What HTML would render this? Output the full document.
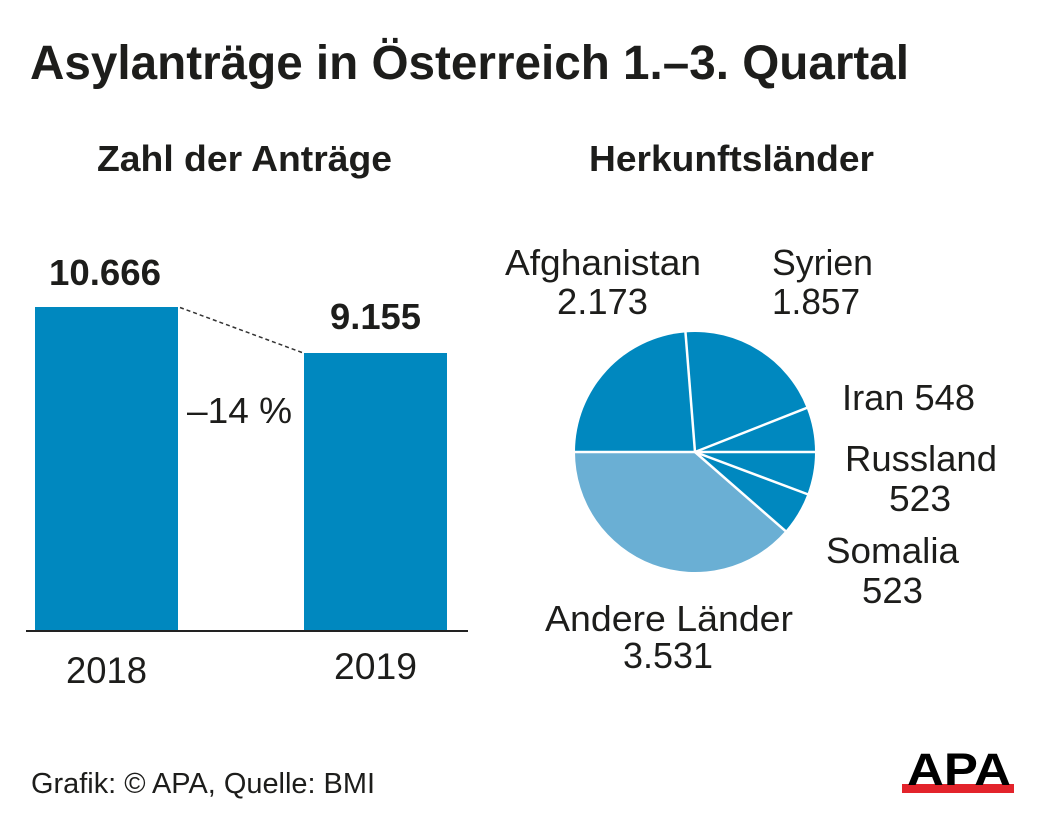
<!DOCTYPE html>
<html>
<head>
<meta charset="utf-8">
<style>
  html, body { margin: 0; padding: 0; background: #ffffff; }
  body { width: 1040px; height: 813px; overflow: hidden; }
  svg { display: block; }
  text { font-family: "Liberation Sans", Arial, sans-serif; fill: #1d1d1b; }
  .b { font-weight: bold; }
</style>
</head>
<body>
<svg width="1040" height="813" viewBox="0 0 1040 813" xmlns="http://www.w3.org/2000/svg">
  <rect x="0" y="0" width="1040" height="813" fill="#ffffff"/>

  <!-- Title -->
  <text class="b" x="30" y="79" font-size="48" textLength="879" lengthAdjust="spacingAndGlyphs">Asylanträge in Österreich 1.–3. Quartal</text>

  <!-- Subtitles -->
  <text class="b" x="97" y="171" font-size="36" textLength="295" lengthAdjust="spacingAndGlyphs">Zahl der Anträge</text>
  <text class="b" x="589" y="171" font-size="36" textLength="285" lengthAdjust="spacingAndGlyphs">Herkunftsländer</text>

  <!-- Bar chart -->
  <rect x="35" y="307" width="143" height="324" fill="#0088bf"/>
  <rect x="304" y="353" width="143" height="278" fill="#0088bf"/>
  <line x1="26" y1="631" x2="468" y2="631" stroke="#222" stroke-width="2"/>
  <line x1="180" y1="307.5" x2="302" y2="352.5" stroke="#333" stroke-width="1.5" stroke-dasharray="4 3"/>

  <text class="b" x="49" y="285" font-size="36" textLength="112" lengthAdjust="spacingAndGlyphs">10.666</text>
  <text class="b" x="330" y="329" font-size="36" textLength="91" lengthAdjust="spacingAndGlyphs">9.155</text>
  <text x="187" y="423" font-size="36" textLength="105" lengthAdjust="spacingAndGlyphs">–14 %</text>
  <text x="66" y="683" font-size="37" textLength="81" lengthAdjust="spacingAndGlyphs">2018</text>
  <text x="334" y="679" font-size="37" textLength="83" lengthAdjust="spacingAndGlyphs">2019</text>

  <!-- Pie chart -->
  <g>
    <path d="M695,452 L575,452 A120,120 0 0 1 685.48,332.38 Z" fill="#0088bf"/>
    <path d="M695,452 L685.48,332.38 A120,120 0 0 1 806.63,407.96 Z" fill="#0088bf"/>
    <path d="M695,452 L806.63,407.96 A120,120 0 0 1 815,452 Z" fill="#0088bf"/>
    <path d="M695,452 L815,452 A120,120 0 0 1 807.34,494.19 Z" fill="#0088bf"/>
    <path d="M695,452 L807.34,494.19 A120,120 0 0 1 785.35,530.98 Z" fill="#0088bf"/>
    <path d="M695,452 L785.35,530.98 A120,120 0 0 1 575,452 Z" fill="#6aafd4"/>
    <g stroke="#ffffff" stroke-width="2.5" stroke-linecap="butt">
      <line x1="695" y1="452" x2="574" y2="452"/>
      <line x1="695" y1="452" x2="685.4" y2="331.4"/>
      <line x1="695" y1="452" x2="807.6" y2="407.6"/>
      <line x1="695" y1="452" x2="816" y2="452"/>
      <line x1="695" y1="452" x2="808.3" y2="494.5"/>
      <line x1="695" y1="452" x2="786.1" y2="531.6"/>
    </g>
  </g>

  <!-- Pie labels -->
  <text x="505" y="275" font-size="36" textLength="196" lengthAdjust="spacingAndGlyphs">Afghanistan</text>
  <text x="557" y="314" font-size="36" textLength="91" lengthAdjust="spacingAndGlyphs">2.173</text>
  <text x="772" y="275" font-size="36" textLength="101" lengthAdjust="spacingAndGlyphs">Syrien</text>
  <text x="772" y="314" font-size="36" textLength="88" lengthAdjust="spacingAndGlyphs">1.857</text>
  <text x="842" y="410" font-size="36" textLength="133" lengthAdjust="spacingAndGlyphs">Iran 548</text>
  <text x="845" y="471" font-size="36" textLength="152" lengthAdjust="spacingAndGlyphs">Russland</text>
  <text x="889" y="511" font-size="36" textLength="62" lengthAdjust="spacingAndGlyphs">523</text>
  <text x="826" y="563" font-size="36" textLength="133" lengthAdjust="spacingAndGlyphs">Somalia</text>
  <text x="862" y="603" font-size="36" textLength="61" lengthAdjust="spacingAndGlyphs">523</text>
  <text x="545" y="631" font-size="36" textLength="248" lengthAdjust="spacingAndGlyphs">Andere Länder</text>
  <text x="623" y="668" font-size="36" textLength="90" lengthAdjust="spacingAndGlyphs">3.531</text>

  <!-- Footer -->
  <text x="31" y="793" font-size="28.5" textLength="344" lengthAdjust="spacingAndGlyphs">Grafik: © APA, Quelle: BMI</text>

  <!-- APA logo -->
  <rect x="902" y="784" width="112" height="9" fill="#e3232b"/>
  <text class="b" x="907" y="785" font-size="45" textLength="104" lengthAdjust="spacingAndGlyphs" style="fill:#000000">APA</text>
</svg>
</body>
</html>
